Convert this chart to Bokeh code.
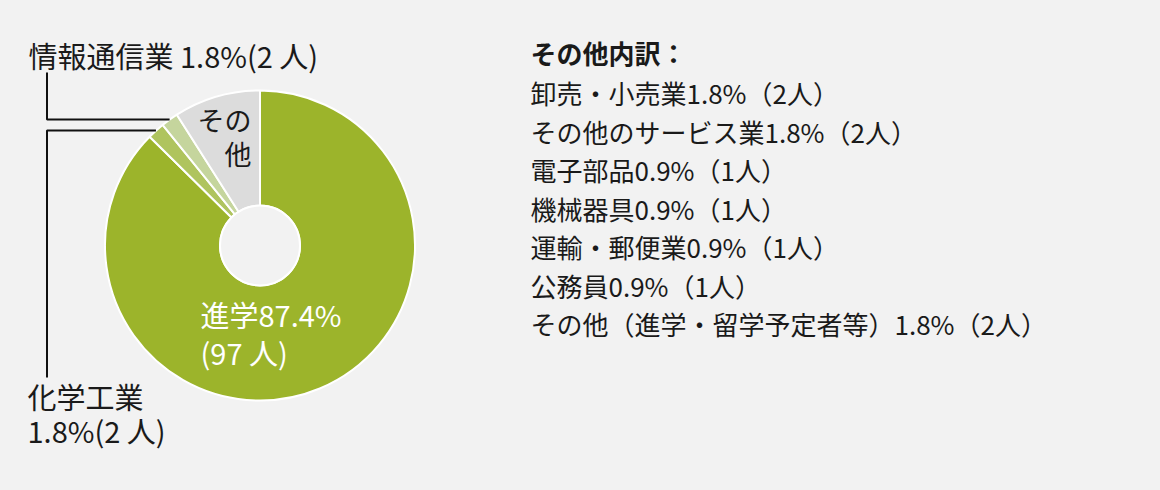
import numpy as np
from bokeh.plotting import figure
from bokeh.models import Range1d
from bokeh.core.properties import value
from bokeh.embed import file_html
from bokeh.resources import INLINE

# ---- data ----
categories = ["進学", "化学工業", "情報通信業", "その他"]
counts = [97, 2, 2, 10]
percents = [87.4, 1.8, 1.8, 9.0]
colors = ["#9cb42b", "#afc45e", "#c5d59d", "#dcdcdc"]

other_title = "その他内訳："
other_items = ["卸売・小売業", "その他のサービス業", "電子部品", "機械器具",
               "運輸・郵便業", "公務員", "その他（進学・留学予定者等）"]
other_pct = [1.8, 1.8, 0.9, 0.9, 0.9, 0.9, 1.8]
other_cnt = [2, 2, 1, 1, 1, 1, 2]

# ---- layout helpers (reference pixel coords -> data coords) ----
W, H = 1144, 474
FONT = value("Noto Sans CJK JP")


def X(px):
    return px


def Y(py):
    return H - py


p = figure(width=W, height=H, x_range=Range1d(0, W), y_range=Range1d(0, H),
           output_backend="svg", toolbar_location=None, min_border=0,
           x_axis_location=None, y_axis_location=None)
p.grid.visible = False
p.outline_line_color = None
p.background_fill_color = "#f2f2f2"
p.border_fill_color = "#f2f2f2"

# ---- donut ----
cx, cy = X(259.5), Y(245)
R_OUT, R_IN = 155, 40
total = sum(counts)
cum = np.concatenate([[0], np.cumsum(counts)]) / total
starts = np.pi / 2 - 2 * np.pi * cum[:-1]
ends = np.pi / 2 - 2 * np.pi * cum[1:]
p.annular_wedge(x=cx, y=cy, inner_radius=R_IN, outer_radius=R_OUT,
                inner_radius_units="screen", outer_radius_units="screen",
                start_angle=list(starts), end_angle=list(ends), direction="clock",
                fill_color=colors, line_color="white", line_width=2)
# hole outline
p.circle(x=cx, y=cy, radius=R_IN, radius_units="screen", fill_color="#f2f2f2",
         line_color="white", line_width=2)

# ---- leader lines ----
mids = (starts + ends) / 2


def edge_point(i):
    return cx + R_OUT * np.cos(mids[i]), cy + R_OUT * np.sin(mids[i])


lx = X(46.5)
ex, ey = edge_point(2)  # 情報通信業
p.line(x=[lx, lx, ex], y=[Y(72), ey, ey], line_color="#111111", line_width=2)
ex, ey = edge_point(1)  # 化学工業
p.line(x=[ex, lx, lx], y=[ey, ey, Y(377)], line_color="#111111", line_width=2)

# ---- labels ----
def txt(x, y, s, size, color="#1a1a1a", align="left", style="normal"):
    p.text(x=[x], y=[y], text=[s], text_font=FONT, text_font_size=size,
           text_color=color, text_align=align, text_baseline="middle",
           text_font_style=style)


txt(X(28), Y(54), f"{categories[2]} {percents[2]}%({counts[2]} 人)", "29px")
txt(X(27), Y(395), categories[1], "29px")
txt(X(27), Y(429), f"{percents[1]}%({counts[1]} 人)", "29px")
txt(X(251), Y(119), categories[3][:2], "27px", align="right")
txt(X(251), Y(153), categories[3][2:], "27px", align="right")
txt(X(200), Y(313), f"{categories[0]}{percents[0]}%", "29px", color="white")
txt(X(200), Y(351), f"({counts[0]} 人)", "29px", color="white")

txt(X(530), Y(52), other_title, "26px", style="bold")
for i, (name, pc, n) in enumerate(zip(other_items, other_pct, other_cnt)):
    txt(X(530), Y(92 + 38.5 * i), f"{name}{pc}%（{n}人）", "26px")

html = file_html(p, INLINE)
html = html.replace("</head>", "<style>body{background:#f2f2f2;}</style></head>", 1)
open("out.html", "w").write(html)
